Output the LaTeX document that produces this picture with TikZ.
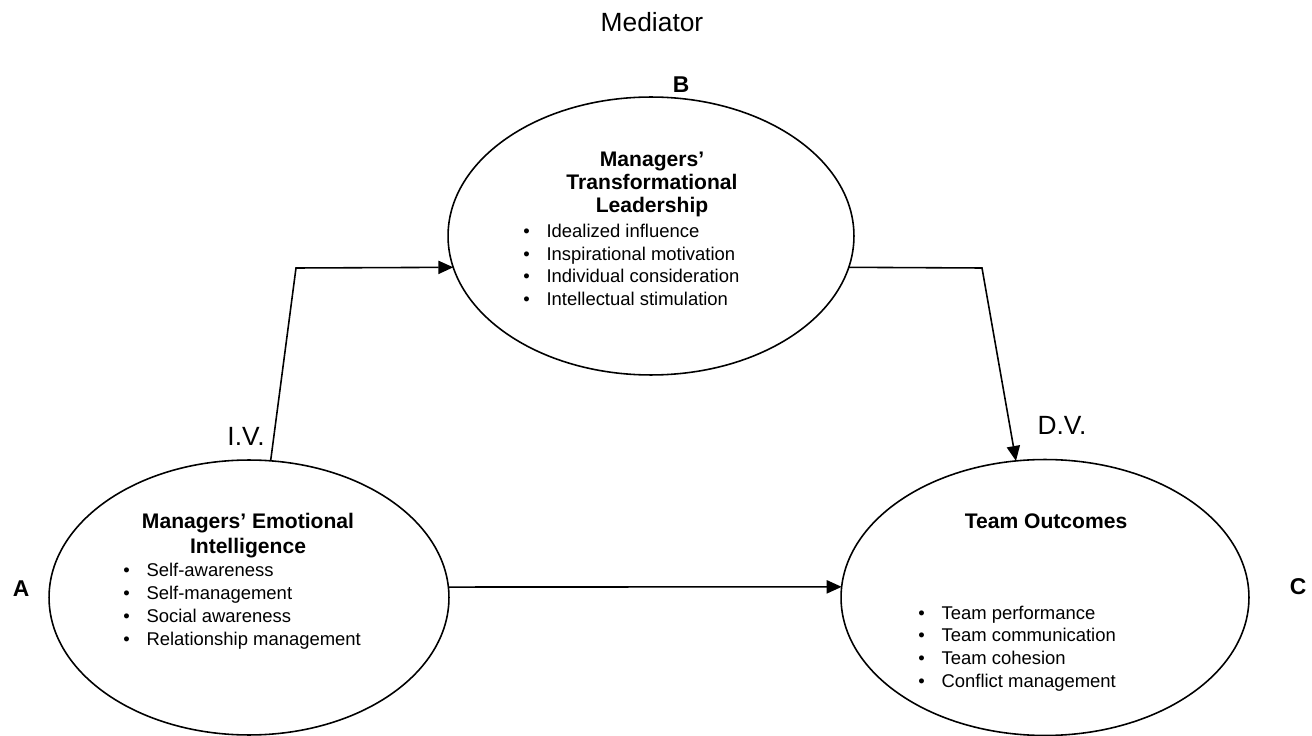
\documentclass[tikz,border=0pt]{standalone}
\usepackage{fontspec}
\setmainfont{Liberation Sans}
\usetikzlibrary{shapes.geometric,arrows.meta}

\tikzset{
  oval/.style={draw, ellipse, line width=0.9pt, inner sep=0pt, outer sep=0pt},
  head/.style={font=\bfseries\fontsize{12}{14}\selectfont, anchor=base, inner sep=0pt},
  item/.style={font=\fontsize{10.5}{12}\selectfont, anchor=base west, inner sep=0pt},
  tag/.style={font=\bfseries\fontsize{13}{15}\selectfont, anchor=base, inner sep=0pt},
  lbl/.style={font=\fontsize{15}{18}\selectfont, anchor=base, inner sep=0pt},
  link/.style={line width=0.9pt, -{Triangle[length=8.5pt,width=7.5pt]}}
}
\newcommand{\blt}{\makebox[13.2pt][l]{\textbullet}}

\begin{document}
\begin{tikzpicture}[x=0.02cm, y=-0.02cm]
            \useasboundingbox (0,0) rectangle (1312,736);

            \node[oval, minimum width=8cm, minimum height=5.5cm] (A) at (249,597.5) {};
            \node[oval, minimum width=8.12cm, minimum height=5.56cm] (B) at (651,236) {};
            \node[oval, minimum width=8.16cm, minimum height=5.52cm] (C) at (1045,597.5) {};

            \node[lbl] (med) at (652,32) {Mediator};
            \node[tag] (tB) at (681,93) {B};
            \node[tag] (tA) at (21,596) {A};
            \node[tag] (tC) at (1298,594) {C};
            \node[lbl] (iv) at (246,446) {I.V.};
            \node[lbl] (dv) at (1062,435) {D.V.};

            % emotional intelligence
            \node[head] (ha1) at (248,528) {Managers' Emotional};
            \node[head] (ha2) at (248,553) {Intelligence};
            \foreach \t [count=\i from 0] in {Self-awareness,Self-management,Social awareness,Relationship management}
              \node[item] (ia\i) at (123,{576+23*\i}) {\blt\t};

            % transformational leadership
            \node[head] (hb1) at (652,167) {Managers'};
            \node[head] (hb2) at (652,190) {Transformational};
            \node[head] (hb3) at (652,213) {Leadership};
            \foreach \t [count=\i from 0] in {Idealized influence,Inspirational motivation,Individual consideration,Intellectual stimulation}
              \node[item] (ib\i) at (523,{238+22.5*\i}) {\blt\t};

            % team outcomes
            \node[head] (hc1) at (1046,528) {Team Outcomes};
            \foreach \t [count=\i from 0] in {Team performance,Team communication,Team cohesion,Conflict management}
              \node[item] (ic\i) at (918,{619+22.7*\i}) {\blt\t};

            \coordinate (k1) at (296,268);
            \coordinate (k2) at (982,268);

            \draw[link] (A.81) -- (k1) -- (B.189);
            \draw[link] (B.351) -- (k2) -- (C.102);
            \draw[link] (A.3) -- (C.177);
        \end{tikzpicture}
\end{document}
